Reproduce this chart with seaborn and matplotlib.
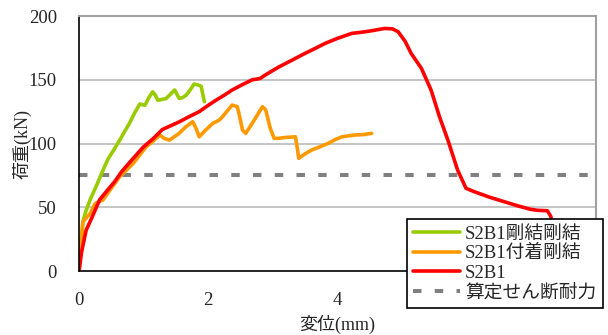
import matplotlib
matplotlib.use("Agg")
import matplotlib.pyplot as plt
import seaborn as sns
import pandas as pd

# Load-displacement data (displacement mm, load kN)
rigid_x = [0.00, 0.03, 0.06, 0.10, 0.17, 0.27, 0.37, 0.45, 0.55, 0.63, 0.70, 0.78, 0.86,
           0.94, 1.02, 1.08, 1.14, 1.18, 1.22, 1.28, 1.35, 1.42, 1.48, 1.55, 1.60, 1.66,
           1.72, 1.78, 1.84, 1.89, 1.94]
rigid_y = [0.0, 22.0, 38.7, 46.0, 55.7, 67.0, 79.0, 88.0, 96.0, 102.7, 109.0, 115.8, 124.0,
           131.0, 130.0, 136.0, 140.6, 138.0, 134.0, 134.5, 135.4, 139.0, 142.0, 135.4, 136.0,
           138.0, 142.0, 146.7, 146.0, 145.0, 132.8]

bond_x = [0.00, 0.03, 0.06, 0.17, 0.25, 0.37, 0.48, 0.63, 0.84, 1.04, 1.15, 1.25, 1.32, 1.40,
          1.55, 1.65, 1.76, 1.81, 1.86, 1.96, 2.07, 2.17, 2.22, 2.37, 2.45, 2.50, 2.53, 2.58,
          2.68, 2.78, 2.84, 2.89, 2.96, 3.02, 3.09, 3.20, 3.35, 3.38, 3.40, 3.50, 3.60, 3.73,
          3.86, 3.96, 4.07, 4.27, 4.40, 4.53]
bond_y = [0.0, 20.0, 38.7, 45.0, 53.0, 55.7, 63.5, 74.0, 84.5, 97.5, 102.0, 106.7, 104.0, 102.7,
          108.0, 113.0, 117.1, 112.0, 105.3, 110.6, 115.8, 118.4, 121.0, 130.2, 128.9, 118.0,
          110.6, 108.0, 115.8, 124.0, 128.9, 126.3, 112.0, 104.1, 104.1, 104.8, 105.3, 96.0,
          88.4, 92.0, 94.9, 97.5, 100.2, 103.0, 105.3, 106.7, 107.0, 108.0]

ref_x = [0.00, 0.04, 0.11, 0.20, 0.32, 0.45, 0.55, 0.66, 0.78, 0.99, 1.15, 1.29, 1.42, 1.55,
         1.70, 1.86, 2.00, 2.12, 2.25, 2.37, 2.52, 2.68, 2.80, 2.89, 3.09, 3.30, 3.50, 3.65,
         3.81, 4.00, 4.22, 4.40, 4.53, 4.73, 4.85, 4.94, 5.05, 5.14, 5.30, 5.45, 5.58, 5.71,
         5.86, 5.99, 6.12, 6.35, 6.58, 6.80, 6.99, 7.10, 7.25, 7.30, 7.33]
ref_y = [0.0, 15.0, 32.0, 42.0, 56.0, 64.0, 70.0, 78.0, 85.0, 97.0, 104.0, 111.0, 114.0, 117.0,
         121.0, 125.0, 130.0, 134.0, 138.0, 142.0, 146.0, 150.0, 151.0, 154.0, 160.0, 165.5,
         170.8, 174.5, 178.6, 182.5, 186.4, 187.5, 188.5, 190.3, 190.0, 187.7, 180.0, 170.8,
         159.0, 141.9, 121.0, 102.7, 79.2, 64.9, 62.2, 58.0, 54.4, 51.0, 48.4, 47.6, 47.3,
         43.1, 38.0]

shear_capacity = 75.0

series_names = ["S2B1剛結剛結", "S2B1付着剛結", "S2B1"]
series_colors = ["#99CC00", "#FF9900", "#FF0000"]
capacity_label = "算定せん断耐力"

x_ticks = [0, 2, 4]
y_ticks = [0, 50, 100, 150, 200]

frames = []
for name, xs, ys in zip(series_names, [rigid_x, bond_x, ref_x], [rigid_y, bond_y, ref_y]):
    frames.append(pd.DataFrame({"disp": xs, "load": ys, "series": name}))
data = pd.concat(frames, ignore_index=True)

sns.set_theme(style="white")
plt.rcParams["font.family"] = ["Liberation Serif", "Noto Sans CJK JP"]

fig = plt.figure(figsize=(6.08, 3.35), dpi=100)
ax = fig.add_axes([0.130, 0.191, 0.850, 0.761])

for y in y_ticks[1:-1]:
    ax.axhline(y, color="#C0C0C0", lw=1.3, zorder=0)

line_w = 2.6
dash_style = (2.1, 3.3)

sns.lineplot(data=data, x="disp", y="load", hue="series", hue_order=series_names,
             palette=series_colors, sort=False, estimator=None, lw=line_w, ax=ax, legend=False)
ax.axhline(shear_capacity, color="#808080", lw=2.9, dashes=dash_style, zorder=1)

ax.set_xlim(0, 8)
ax.set_ylim(0, 200)
ax.set_xticks(x_ticks)
ax.set_yticks(y_ticks)
ax.tick_params(axis="x", direction="in", length=5, width=1, color="black", pad=15, labelsize=13.5)
ax.tick_params(axis="y", direction="out", length=3, width=1, color="black", pad=13, labelsize=13.5)
ax.set_xlabel("変位(mm)", fontsize=13, labelpad=4)
ax.set_ylabel("荷重(kN)", fontsize=13)
ax.yaxis.set_label_coords(-0.092, 0.5)

for side in ("left", "bottom"):
    ax.spines[side].set_color("black")
    ax.spines[side].set_linewidth(1.2)
for side in ("top", "right"):
    ax.spines[side].set_color("#A0A0A0")
    ax.spines[side].set_linewidth(1.5)

handles = [plt.Line2D([], [], color=c, lw=line_w) for c in series_colors]
handles.append(plt.Line2D([], [], color="#808080", lw=2.9, dashes=dash_style))
labels = series_names + [capacity_label]
leg = fig.legend(handles, labels, loc="lower left", bbox_to_anchor=(0.669, 0.081),
                 fontsize=13.5, frameon=True, fancybox=False, framealpha=1,
                 edgecolor="black", handlelength=2.5, handletextpad=0.25,
                 labelspacing=0.12, borderpad=0.35, borderaxespad=0)
leg.get_frame().set_linewidth(1.2)
leg.set_zorder(10)

fig.savefig("out.png", dpi=100)
